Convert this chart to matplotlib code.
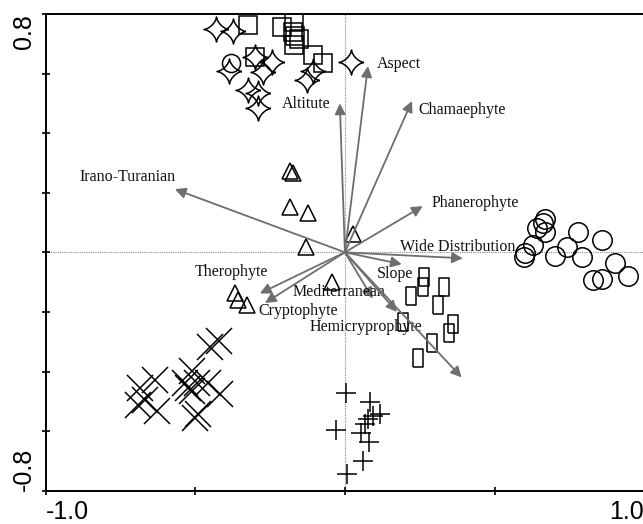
import numpy as np
import matplotlib
matplotlib.use("Agg")
import matplotlib.pyplot as plt
from matplotlib.path import Path

# sample scores
star_x = [-0.431, -0.374, -0.300, -0.244, -0.274, -0.387, -0.324, -0.290, -0.290, -0.127, -0.107, 0.020]
star_y = [0.750, 0.743, 0.655, 0.639, 0.605, 0.608, 0.545, 0.534, 0.484, 0.578, 0.608, 0.639]

sq_x = [-0.324, -0.210, -0.170, -0.174, -0.167, -0.154, -0.170, -0.107, -0.073, -0.300]
sq_y = [0.763, 0.756, 0.773, 0.739, 0.726, 0.716, 0.696, 0.662, 0.635, 0.655]

odd_circ_x = [-0.381]
odd_circ_y = [0.635]

tri_x = [-0.184, -0.174, -0.184, -0.124, -0.130, 0.027, -0.043, -0.367, -0.357, -0.327]
tri_y = [0.272, 0.266, 0.151, 0.131, 0.017, 0.061, -0.101, -0.138, -0.161, -0.178]

circ_x = [0.668, 0.661, 0.641, 0.668, 0.778, 0.858, 0.741, 0.628, 0.601, 0.598,
          0.701, 0.791, 0.902, 0.945, 0.828, 0.858]
circ_y = [0.111, 0.097, 0.081, 0.067, 0.067, 0.040, 0.017, 0.024, -0.003, -0.017,
          -0.013, -0.017, -0.037, -0.081, -0.094, -0.091]

rect_x = [0.264, 0.260, 0.220, 0.331, 0.311, 0.361, 0.347, 0.194, 0.290, 0.244]
rect_y = [-0.084, -0.118, -0.145, -0.118, -0.178, -0.239, -0.272, -0.235, -0.306, -0.356]

cross_x = [-0.421, -0.451, -0.511, -0.634, -0.534, -0.524, -0.511, -0.494, -0.457,
           -0.684, -0.668, -0.628, -0.417, -0.491, -0.501, -0.691]
cross_y = [-0.296, -0.319, -0.397, -0.430, -0.440, -0.454, -0.464, -0.440, -0.440,
           -0.457, -0.497, -0.531, -0.474, -0.541, -0.555, -0.514]

plus_x = [0.003, 0.083, 0.117, 0.093, 0.077, -0.030, 0.067, 0.053, 0.080, 0.060, 0.007]
plus_y = [-0.471, -0.501, -0.541, -0.548, -0.561, -0.598, -0.575, -0.608, -0.635, -0.699, -0.743]

# environmental / trait vectors
var_names = ["Altitute", "Aspect", "Chamaephyte", "Phanerophyte", "Wide Distribution",
             "Slope", "Mediterranean", "Hemicryprophyte", "", "Therophyte",
             "Cryptophyte", "Irano-Turanian"]
var_x = [-0.017, 0.077, 0.224, 0.260, 0.394, 0.190, 0.093, 0.174, 0.390, -0.284, -0.267, -0.568]
var_y = [0.500, 0.625, 0.508, 0.155, -0.020, -0.040, -0.155, -0.200, -0.420, -0.138, -0.170, 0.212]
lab_x = [-0.210, 0.107, 0.247, 0.290, 0.184, 0.107, -0.174, -0.117, 0, -0.501, -0.290, -0.885]
lab_y = [0.497, 0.632, 0.477, 0.165, 0.017, -0.074, -0.134, -0.249, 0, -0.067, -0.198, 0.252]

# marker shapes
t = np.linspace(0, 2 * np.pi, 81)
star_marker = Path(np.column_stack([np.cos(t) ** 3, np.sin(t) ** 3]))
rect_marker = Path([(-0.28, -0.5), (0.28, -0.5), (0.28, 0.5), (-0.28, 0.5), (-0.28, -0.5)])

fig = plt.figure(figsize=(6.43, 5.24), dpi=100)
ax = fig.add_axes([0.0708, 0.0636, 0.9312, 0.9097])
ax.set_xlim(-1.0, 1.0)
ax.set_ylim(-0.8, 0.8)

ax.axhline(0, color="#888888", lw=0.8, ls=(0, (1, 1)), zorder=0)
ax.axvline(0, color="#888888", lw=0.8, ls=(0, (1, 1)), zorder=0)

mk = dict(ls="none", mfc="none", mec="black", mew=1.1)
ax.plot(star_x, star_y, marker=star_marker, ms=18, **mk)
ax.plot(sq_x, sq_y, marker="s", ms=13, **mk)
ax.plot(odd_circ_x, odd_circ_y, marker="o", ms=13, **mk)
ax.plot(tri_x, tri_y, marker="^", ms=12, **mk)
ax.plot(circ_x, circ_y, marker="o", ms=14, **mk)
ax.plot(rect_x, rect_y, marker=rect_marker, ms=13, **mk)
ax.plot(cross_x, cross_y, marker="x", ms=19, **mk)
ax.plot(plus_x, plus_y, marker="+", ms=15, **mk)

for name, x, y, lx, ly in zip(var_names, var_x, var_y, lab_x, lab_y):
    ax.annotate("", xy=(x, y), xytext=(0, 0),
                arrowprops=dict(arrowstyle="-|>", color="#6e6e6e", lw=1.3,
                                mutation_scale=16, shrinkA=0, shrinkB=0))
    if name:
        ax.text(lx, ly, name, ha="left", va="center", fontsize=11.5,
                family="Liberation Serif", color="#111111")

for s in ax.spines.values():
    s.set_linewidth(1.4)

ax.set_xticks([-1.0, -0.5, 0, 0.5, 1.0])
ax.set_xticklabels(["-1.0", "", "", "", "1.0"])
ax.set_yticks(np.arange(-0.8, 0.81, 0.2))
ax.set_yticklabels(["-0.8", "", "", "", "", "", "", "", "0.8"], rotation=90)
ax.tick_params(direction="inout", length=6, width=1.2, labelsize=18, pad=4)
xl = ax.get_xticklabels()
xl[0].set_ha("left")
xl[-1].set_ha("right")
yl = ax.get_yticklabels()
yl[0].set_va("bottom")
yl[-1].set_va("top")
for lab in xl + yl:
    lab.set_family("Liberation Sans")

fig.savefig("out.png", dpi=100)
